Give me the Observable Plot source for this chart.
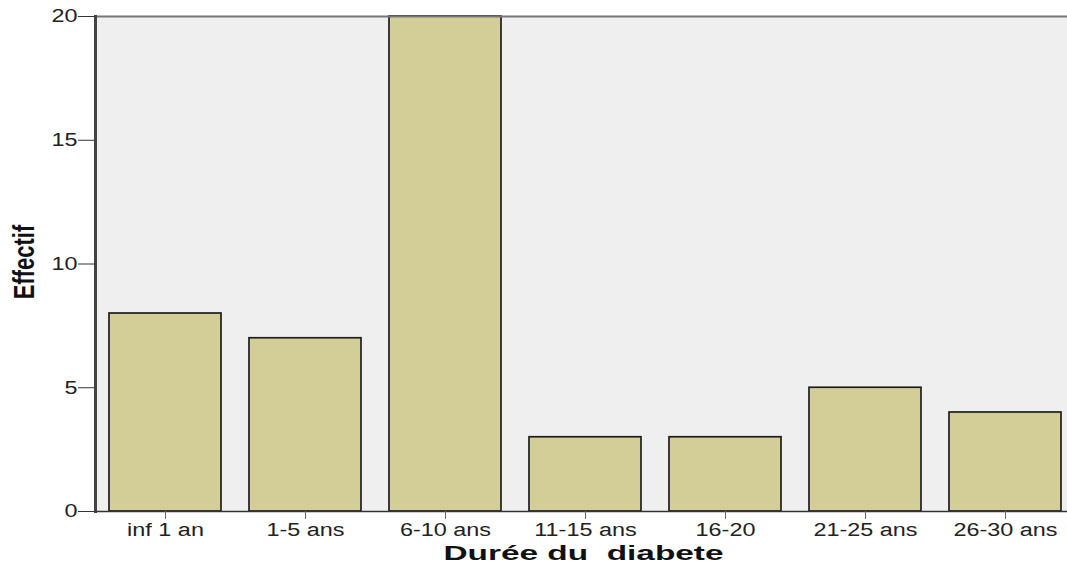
<!DOCTYPE html>
<html><head><meta charset="utf-8">
<script src="https://cdn.jsdelivr.net/npm/d3@7"></script>
<script src="https://cdn.jsdelivr.net/npm/@observablehq/plot@0.6"></script>
<style>
html,body{margin:0;padding:0;background:#fff;overflow:hidden;}
svg{overflow:hidden;}
</style></head>
<body><div id="chart"></div>
<script>
const categories = ["inf 1 an","1-5 ans","6-10 ans","11-15 ans","16-20","21-25 ans","26-30 ans"];
const counts = [8,7,20,3,3,5,4];
const yTicks = [0,5,10,15,20];
const xTitle = "Durée du  diabete";
const yTitle = "Effectif";
const data = categories.map((c,i)=>({cat:c, n:counts[i]}));

const chart = Plot.plot({
  width: 1067, height: 569,
  marginLeft: 95, marginRight: -8, marginTop: 16, marginBottom: 58,
  style: {fontFamily: "Arial, 'Liberation Sans', sans-serif", fontSize: "18px", color: "#222", background: "#fff"},
  x: {domain: categories, paddingInner: 0.2, paddingOuter: 0.1, label: null},
  y: {domain: [0,20], label: null},
  marks: [
    Plot.frame({fill: "#efefef", stroke: null}),
    Plot.barY(data, {x: "cat", y: "n", fill: "#d3ce97", stroke: "#1e1e1e", strokeWidth: 1.7}),
    Plot.ruleY([20], {stroke: "#777", strokeWidth: 2}),
    Plot.frame({anchor: "left", stroke: "#444", strokeWidth: 3}),
    Plot.ruleY([0], {stroke: "#333", strokeWidth: 1.5}),
    Plot.axisY(yTicks, {tickSize: 17, tickPadding: 1, stroke: "#333", fontSize: 18, label: null}),
    Plot.axisX({tickSize: 8, tickPadding: 4, stroke: "#666", fontSize: 18, label: null}),
    Plot.text([xTitle], {frameAnchor: "bottom", dx: -2, dy: 48, fontSize: 21, fontWeight: "bold", fill: "#111", fontFamily: "Arial, 'Liberation Sans', sans-serif", className: "xtitle"}),
    Plot.text([yTitle], {frameAnchor: "left", textAnchor: "middle", dx: -71, dy: -2, rotate: -90, fontSize: 22, fontWeight: "bold", fill: "#111", fontFamily: "Arial, 'Liberation Sans', sans-serif", className: "ytitle"})
  ]
});
document.getElementById("chart").appendChild(chart);

// the reference image is horizontally stretched: widen text glyphs accordingly
d3.select(chart).selectAll("text").each(function() {
  const t = this;
  if (t.closest(".ytitle")) {
    const tr = t.getAttribute("transform") || "";
    t.setAttribute("transform", tr.replace(/(translate\([^)]*\))/, "$1 scale(1.35,1)"));
    return;
  }
  if (t.closest(".xtitle")) {
    t.setAttribute("textLength", 280);
    t.setAttribute("lengthAdjust", "spacingAndGlyphs");
    return;
  }
  const len = t.getComputedTextLength();
  if (len > 0) {
    t.setAttribute("textLength", (len * 1.3).toFixed(1));
    t.setAttribute("lengthAdjust", "spacingAndGlyphs");
  }
});
</script></body></html>
